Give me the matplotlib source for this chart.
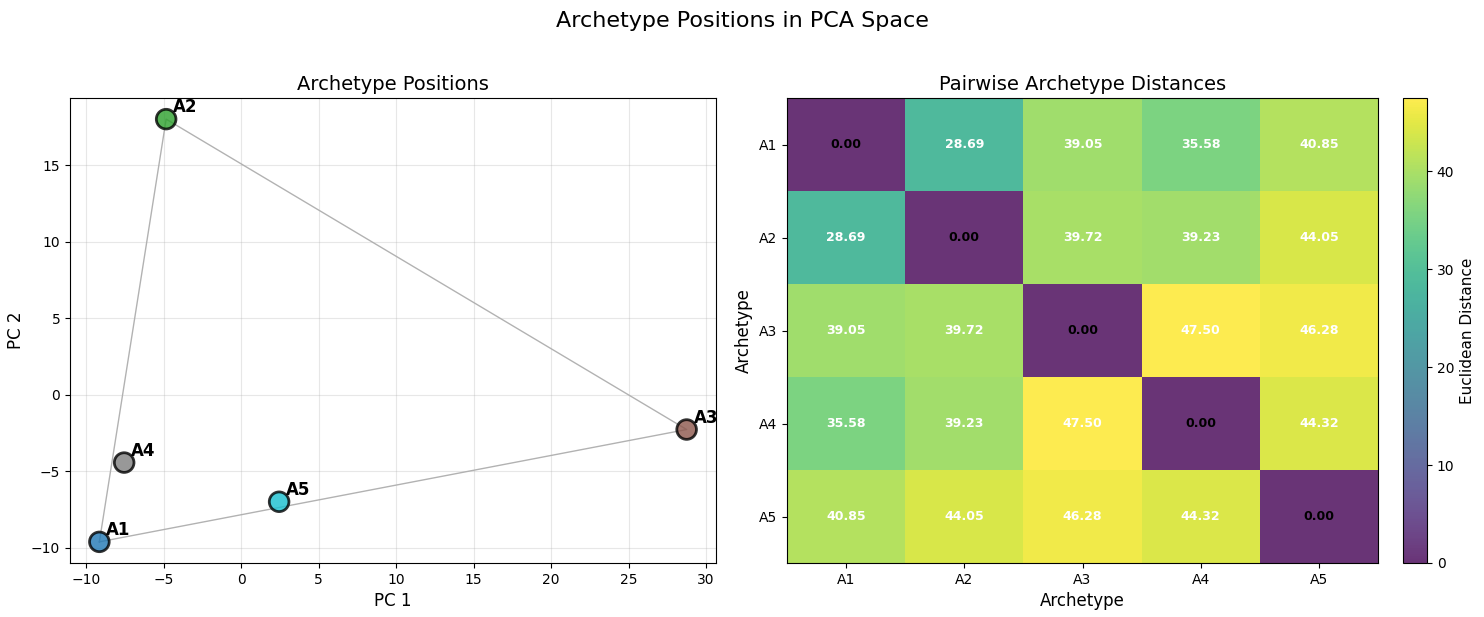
import numpy as np
import matplotlib
matplotlib.use("Agg")
import matplotlib.pyplot as plt

labels = ["A1", "A2", "A3", "A4", "A5"]
pc1 = [-9.15, -4.84, 28.75, -7.55, 2.45]
pc2 = [-9.6, 18.02, -2.26, -4.42, -6.98]
hull = [0, 1, 2, 0]
dist = np.array([
    [0.00, 28.69, 39.05, 35.58, 40.85],
    [28.69, 0.00, 39.72, 39.23, 44.05],
    [39.05, 39.72, 0.00, 47.50, 46.28],
    [35.58, 39.23, 47.50, 0.00, 44.32],
    [40.85, 44.05, 46.28, 44.32, 0.00],
])

fig = plt.figure(figsize=(14.84, 6.17), dpi=100)
W, H = 1484, 617
def rect(x0, y0, x1, y1):
    return [x0 / W, 1 - y1 / H, (x1 - x0) / W, (y1 - y0) / H]

ax1 = fig.add_axes(rect(70, 98, 716, 563))
ax2 = fig.add_axes(rect(787, 98, 1378, 563))
cax = fig.add_axes(rect(1403, 98, 1427, 563))

colors = plt.cm.tab10(np.linspace(0, 1, len(labels)))
ax1.plot([pc1[i] for i in hull], [pc2[i] for i in hull], 'k-', alpha=0.3, linewidth=1, zorder=1)
ax1.scatter(pc1, pc2, c=colors, s=200, edgecolors='black', linewidths=2, alpha=0.8, zorder=3)
for i, lab in enumerate(labels):
    ax1.annotate(lab, (pc1[i], pc2[i]), xytext=(5, 5), textcoords='offset points',
                 fontsize=12, fontweight='bold')
ax1.set_xlabel("PC 1", fontsize=12)
ax1.set_ylabel("PC 2", fontsize=12)
ax1.set_title("Archetype Positions", fontsize=14)
ax1.grid(True, alpha=0.3)

im = ax2.imshow(dist, cmap='viridis', alpha=0.8, aspect='auto')
ax2.set_xticks(range(len(labels)))
ax2.set_xticklabels(labels)
ax2.set_yticks(range(len(labels)))
ax2.set_yticklabels(labels)
for i in range(len(labels)):
    for j in range(len(labels)):
        ax2.text(j, i, f"{dist[i, j]:.2f}", ha='center', va='center',
                 color='black' if i == j else 'white', fontsize=9, fontweight='bold')
ax2.set_xlabel("Archetype", fontsize=12)
ax2.set_ylabel("Archetype", fontsize=12)
ax2.set_title("Pairwise Archetype Distances", fontsize=14)
cb = fig.colorbar(im, cax=cax)
cb.set_label("Euclidean Distance", fontsize=11)

fig.suptitle("Archetype Positions in PCA Space", fontsize=16, y=0.982)
fig.savefig("out.png", dpi=100)
